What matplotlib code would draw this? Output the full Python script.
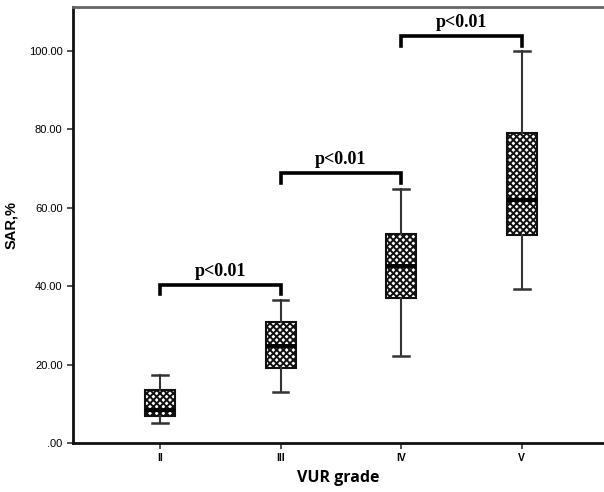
import matplotlib
matplotlib.use("Agg")
import matplotlib.pyplot as plt

# box summary per VUR grade
grades = ["II", "III", "IV", "V"]
whis_lo = [5.1, 12.9, 22.2, 39.4]
q1 = [6.8, 19.1, 37.0, 53.0]
med = [8.5, 24.7, 45.2, 62.1]
q3 = [13.6, 30.9, 53.3, 79.0]
whis_hi = [17.3, 36.4, 64.8, 100.0]

# significance brackets: (left grade idx, right grade idx, height)
pairs = [(0, 1), (1, 2), (2, 3)]
bracket_y = [40.4, 68.9, 103.7]
p_text = ["p<0.01", "p<0.01", "p<0.01"]

yticks = [0, 20, 40, 60, 80, 100]
ytick_labels = [".00", "20.00", "40.00", "60.00", "80.00", "100.00"]

plt.rcParams["hatch.linewidth"] = 1.4
plt.rcParams["hatch.color"] = "black"

fig = plt.figure(figsize=(6.04, 4.92), dpi=100)
ax = fig.add_axes([0.1209, 0.0996, 0.8791, 0.8852])

stats = []
for i, g in enumerate(grades):
    stats.append(dict(label=g, whislo=whis_lo[i], q1=q1[i], med=med[i],
                      q3=q3[i], whishi=whis_hi[i], fliers=[]))

pos = list(range(1, len(grades) + 1))
bp = ax.bxp(stats, positions=pos, widths=0.25, showfliers=False,
            patch_artist=True, capwidths=0.13,
            boxprops=dict(facecolor="white", edgecolor="#111111", linewidth=1.5, hatch="xxxxx"),
            medianprops=dict(color="black", linewidth=2.8),
            whiskerprops=dict(color="#333333", linewidth=1.5),
            capprops=dict(color="#333333", linewidth=1.8))

for (a, b), y, t in zip(pairs, bracket_y, p_text):
    xa, xb = pos[a], pos[b]
    ax.plot([xa, xa, xb, xb], [y - 2.5, y, y, y - 2.5], color="black",
            linewidth=2.6, solid_joinstyle="miter", clip_on=False)
    ax.text((xa + xb) / 2, y + 1.3, t, ha="center", va="bottom",
            fontsize=13, fontweight="bold", family="Liberation Serif")

ax.set_xlim(0.278, 4.683)
ax.set_ylim(0, 111.1)
ax.set_yticks(yticks)
ax.set_yticklabels(ytick_labels, family="Liberation Sans", fontsize=8)
ax.set_xticks(pos)
ax.set_xticklabels(grades, family="Liberation Sans", fontsize=7.5, fontweight="bold")

ax.tick_params(axis="both", direction="out", length=4, width=1.2, color="#333333")
ax.spines["right"].set_visible(False)
for s in ["left", "bottom"]:
    ax.spines[s].set_linewidth(2.0)
    ax.spines[s].set_color("#111111")
ax.spines["top"].set_linewidth(2.0)
ax.spines["top"].set_color("#666666")

ax.set_ylabel("SAR,%", family="Liberation Sans", fontweight="bold", fontsize=10.5, labelpad=8)
ax.set_xlabel("VUR grade", family="Open Sans", fontweight="bold", fontsize=11.5, labelpad=5)

fig.savefig("out.png", dpi=100)
